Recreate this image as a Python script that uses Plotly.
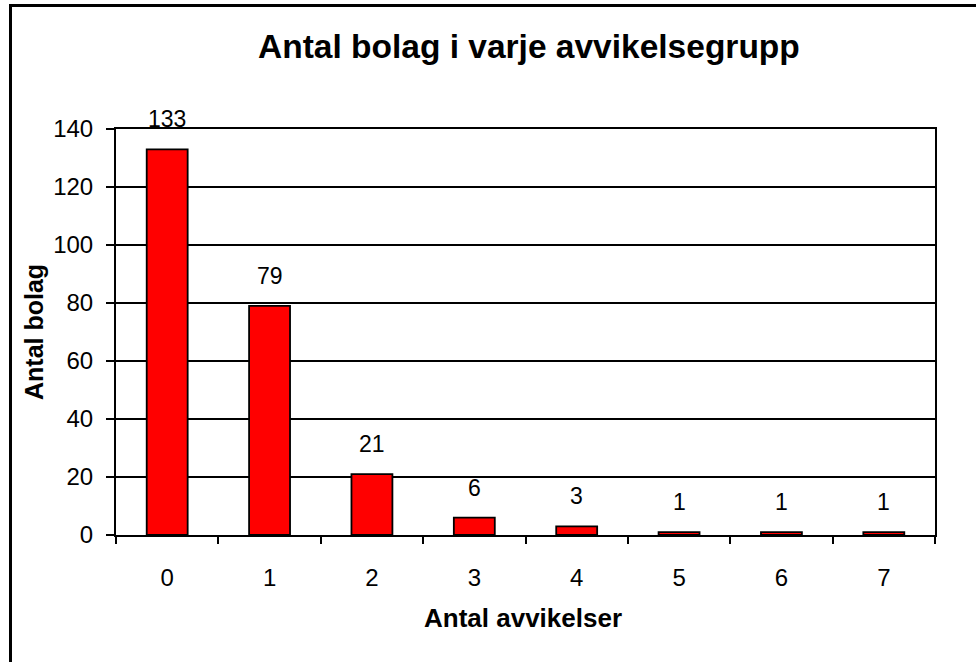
import plotly.graph_objects as go

categories = ["0", "1", "2", "3", "4", "5", "6", "7"]
values = [133, 79, 21, 6, 3, 1, 1, 1]
y_ticks = [0, 20, 40, 60, 80, 100, 120, 140]

title_text = "Antal bolag i varje avvikelsegrupp"
x_title = "Antal avvikelser"
y_title = "Antal bolag"

FONT = "Liberation Sans, Arial, sans-serif"

W, H = 976, 662
L, R, T, B = 116, 41, 129, 127
pw, ph = W - L - R, H - T - B

def px_x(x):
    return (x - L) / pw

def px_y(y):
    return (H - B - y) / ph

fig = go.Figure()
fig.add_trace(go.Bar(
    x=categories, y=values,
    marker=dict(color="#FF0000", line=dict(color="black", width=1.8)),
    width=0.4,
    hoverinfo="x+y",
))

annotations = []
for c, v in zip(categories, values):
    annotations.append(dict(
        x=c, y=v, xref="x", yref="y", text=str(v), showarrow=False,
        yshift=30, yanchor="middle", font=dict(family=FONT, size=23, color="black"),
    ))

annotations.append(dict(
    x=px_x(529), y=px_y(46), xref="paper", yref="paper", text="<b>" + title_text + "</b>",
    showarrow=False, xanchor="center", yanchor="middle",
    font=dict(family=FONT, size=33.5, color="black"),
))
annotations.append(dict(
    x=px_x(523), y=px_y(618), xref="paper", yref="paper", text="<b>" + x_title + "</b>",
    showarrow=False, xanchor="center", yanchor="middle",
    font=dict(family=FONT, size=26, color="black"),
))
annotations.append(dict(
    x=px_x(34), y=px_y(332), xref="paper", yref="paper", text="<b>" + y_title + "</b>",
    showarrow=False, xanchor="center", yanchor="middle", textangle=-90,
    font=dict(family=FONT, size=25, color="black"),
))

fig.update_layout(
    width=W, height=H,
    margin=dict(l=L, r=R, t=T, b=B, pad=0),
    paper_bgcolor="white", plot_bgcolor="white",
    showlegend=False,
    annotations=annotations,
    font=dict(family=FONT, size=24, color="black"),
    shapes=[dict(
        type="rect", xref="paper", yref="paper",
        x0=px_x(10.5), x1=px_x(1000), y0=px_y(700), y1=px_y(5.5),
        line=dict(color="black", width=3), fillcolor="rgba(0,0,0,0)", layer="above",
    )],
)

fig.update_xaxes(
    type="category", tickson="boundaries", ticks="outside", ticklen=7, tickwidth=1.5,
    tickcolor="black", showline=True, linecolor="black", linewidth=2, mirror=True,
    showgrid=False, tickfont=dict(family=FONT, size=24, color="black"),
    ticklabelstandoff=20, fixedrange=True,
)
fig.update_yaxes(
    range=[0, 140], tickvals=y_ticks, ticktext=[str(t) for t in y_ticks],
    ticks="outside", ticklen=8, tickwidth=1.5, tickcolor="black",
    showline=True, linecolor="black", linewidth=2, mirror=True,
    showgrid=True, gridcolor="black", gridwidth=1.5, zeroline=False,
    tickfont=dict(family=FONT, size=24, color="black"), ticklabelstandoff=8,
    fixedrange=True,
)

fig.write_html(
    "out.html",
    config={"displayModeBar": False},
    post_script="document.body.style.margin='0';document.body.style.overflow='hidden';",
)
